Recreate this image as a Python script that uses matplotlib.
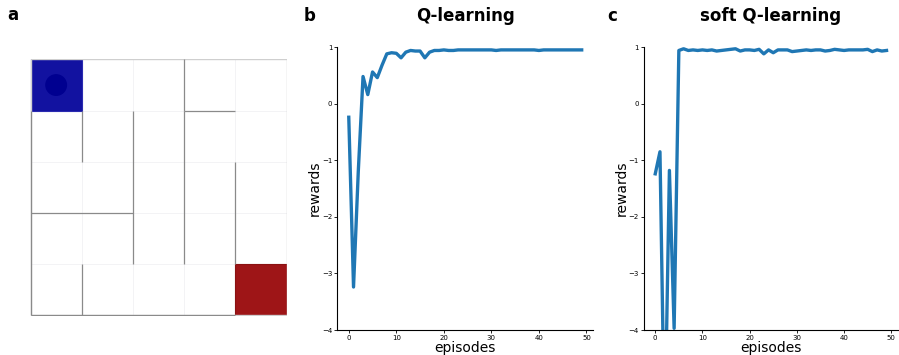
import numpy as np
import matplotlib.pyplot as plt
from matplotlib.patches import Rectangle, Circle

# maze: 5x5 grid, wall segments as (x0, y0, x1, y1) in cell units (y downwards)
n_cells = 5
walls = [
    (3, 0, 3, 1), (3, 1, 4, 1), (1, 1, 1, 2), (2, 1, 2, 4), (3, 1, 3, 4),
    (0, 3, 2, 3), (4, 2, 4, 4), (1, 4, 1, 5), (0, 1, 0, 5), (0, 5, 4, 5),
]
start_cell = (0, 0)
goal_cell = (4, 4)

# rewards per episode
episodes = np.arange(50)
q_rewards = [-0.24, -3.24, -1.2, 0.48, 0.16, 0.56, 0.46, 0.68, 0.88, 0.90,
             0.89, 0.81, 0.91, 0.94, 0.93, 0.93, 0.81, 0.91, 0.94, 0.94,
             0.95, 0.94, 0.94, 0.95, 0.95, 0.95, 0.95, 0.95, 0.95, 0.95,
             0.95, 0.94, 0.95, 0.95, 0.95, 0.95, 0.95, 0.95, 0.95, 0.95,
             0.94, 0.95, 0.95, 0.95, 0.95, 0.95, 0.95, 0.95, 0.95, 0.95]
soft_rewards = [-1.24, -0.85, -6.0, -1.18, -3.97, 0.94, 0.97, 0.94, 0.95, 0.94,
                0.95, 0.94, 0.95, 0.93, 0.94, 0.95, 0.96, 0.97, 0.93, 0.95,
                0.95, 0.94, 0.96, 0.88, 0.95, 0.90, 0.95, 0.95, 0.95, 0.92,
                0.93, 0.94, 0.95, 0.94, 0.95, 0.95, 0.93, 0.94, 0.96, 0.95,
                0.94, 0.95, 0.95, 0.95, 0.95, 0.96, 0.92, 0.95, 0.93, 0.94]

fig = plt.figure(figsize=(8.99, 3.55), dpi=100)

# panel a: maze
ax_a = fig.add_axes([0.0334, 0.110, 0.286, 0.724])
for i in range(n_cells):
    for j in range(n_cells):
        ax_a.add_patch(Rectangle((i, j), 1, 1, facecolor='white', edgecolor='#f2f2f5', lw=0.6))
ax_a.add_patch(Rectangle(start_cell, 1, 1, facecolor='#1212a0', edgecolor='#2a2ab0', lw=0.8))
ax_a.add_patch(Circle((start_cell[0] + 0.5, start_cell[1] + 0.5), 0.2, color='#000090'))
ax_a.add_patch(Rectangle(goal_cell, 1, 1, facecolor='#9e1517', edgecolor='#8a1212', lw=0.8))
ax_a.add_patch(Rectangle((0, 0), n_cells, n_cells, fill=False, edgecolor='#cfcfcf', lw=1.0))
for x0, y0, x1, y1 in walls:
    ax_a.plot([x0, x1], [y0, y1], color='#8a8a8a', lw=0.9, solid_capstyle='butt')
ax_a.set_xlim(-0.01, n_cells + 0.01)
ax_a.set_ylim(n_cells + 0.01, -0.01)
ax_a.axis('off')


def reward_panel(rect, rewards, title):
    ax = fig.add_axes(rect)
    ax.plot(episodes, rewards, color='#1f77b4', lw=2.4)
    ax.set_ylim(-4, 1)
    ax.set_xticks([0, 10, 20, 30, 40, 50])
    ax.set_yticks([-4, -3, -2, -1, 0, 1])
    ax.tick_params(labelsize=5, length=2, width=0.6, pad=1.5)
    ax.spines['top'].set_visible(False)
    ax.spines['right'].set_visible(False)
    for s in ['left', 'bottom']:
        ax.spines[s].set_linewidth(0.8)
    ax.set_xlabel('episodes', fontsize=10, labelpad=0)
    ax.set_ylabel('rewards', fontsize=10, labelpad=0)
    ax.set_title(title, fontsize=12, fontweight='bold', pad=19)
    return ax


ax_b = reward_panel([0.375, 0.0704, 0.285, 0.797], q_rewards, 'Q-learning')
ax_c = reward_panel([0.716, 0.0704, 0.283, 0.797], soft_rewards, 'soft Q-learning')

fig.text(0.008, 0.958, 'a', fontsize=12, fontweight='bold', va='center')
fig.text(0.338, 0.955, 'b', fontsize=12, fontweight='bold', va='center')
fig.text(0.675, 0.955, 'c', fontsize=12, fontweight='bold', va='center')

fig.savefig('out.png', dpi=100)
